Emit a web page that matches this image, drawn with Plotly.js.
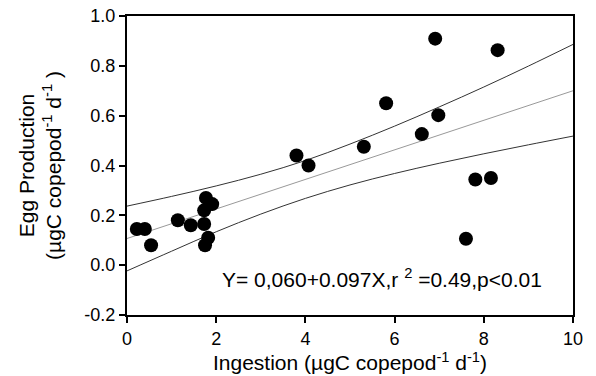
<!DOCTYPE html>
<html>
<head>
<meta charset="utf-8">
<script src="https://cdn.plot.ly/plotly-3.0.1.min.js"></script>
<style>html,body{margin:0;padding:0;background:#fff;}#chart{width:596px;height:376px;}</style>
</head>
<body>
<div id="chart"></div>
<script>
// Observations: ingestion (x) vs egg production (y)
var ingestion = [0.22, 0.40, 0.54, 1.14, 1.43, 1.73, 1.77, 1.91, 1.73, 1.82, 1.75, 3.80, 4.07, 5.31, 5.81, 6.61, 6.98, 6.91, 8.31, 7.81, 8.16, 7.60];
var eggProduction = [0.145, 0.145, 0.08, 0.18, 0.16, 0.165, 0.27, 0.245, 0.22, 0.11, 0.08, 0.44, 0.40, 0.475, 0.65, 0.526, 0.602, 0.909, 0.863, 0.344, 0.35, 0.106];

// Regression line and confidence band
var lineX = [0, 1, 2, 3, 4, 5, 6, 7, 8, 9, 10];
var fitY = [0.107, 0.166, 0.226, 0.285, 0.344, 0.404, 0.463, 0.522, 0.581, 0.641, 0.700];
var upperY = [0.237, 0.276, 0.318, 0.365, 0.420, 0.486, 0.558, 0.635, 0.715, 0.799, 0.886];
var lowerY = [-0.023, 0.056, 0.134, 0.205, 0.268, 0.322, 0.368, 0.409, 0.447, 0.483, 0.518];

var xTicks = [0, 2, 4, 6, 8, 10];
var yTicks = [-0.2, 0.0, 0.2, 0.4, 0.6, 0.8, 1.0];

var font = 'Liberation Sans, Arial, sans-serif';

var traces = [
  {x: lineX, y: upperY, mode: 'lines', line: {color: '#333', width: 1, shape: 'spline'}, hoverinfo: 'skip'},
  {x: lineX, y: lowerY, mode: 'lines', line: {color: '#333', width: 1, shape: 'spline'}, hoverinfo: 'skip'},
  {x: lineX, y: fitY, mode: 'lines', line: {color: '#999', width: 1}, hoverinfo: 'skip'},
  {x: ingestion, y: eggProduction, mode: 'markers', marker: {color: '#000', size: 14}}
];

var axisCommon = {
  showline: true, linecolor: '#000', linewidth: 2, mirror: true,
  ticks: 'outside', ticklen: 6, tickwidth: 2, tickcolor: '#000',
  showgrid: false, zeroline: false,
  tickfont: {family: font, size: 18, color: '#000'}
};

var layout = {
  width: 596, height: 376,
  margin: {l: 127, r: 23, t: 16, b: 61},
  paper_bgcolor: '#fff', plot_bgcolor: '#fff',
  showlegend: false,
  font: {family: font, color: '#000'},
  xaxis: Object.assign({}, axisCommon, {
    range: [0, 10], tickvals: xTicks, ticktext: xTicks.map(String),
    title: {text: 'Ingestion (µgC copepod<sup>-1</sup> d<sup>-1</sup>)', font: {family: font, size: 21}, standoff: 2}
  }),
  yaxis: Object.assign({}, axisCommon, {
    range: [-0.2, 1.0], tickvals: yTicks, ticktext: yTicks.map(function(v){return v.toFixed(1);}),
    title: {text: 'Egg Production<br>(µgC copepod<sup>-1</sup> d<sup>-1</sup> )', font: {family: font, size: 21}, standoff: 17}
  }),
  annotations: [{
    x: 2.08, y: -0.05, xref: 'x', yref: 'y', xanchor: 'left', yanchor: 'middle',
    text: 'Y= 0,060+0.097X,r <sup>2</sup> =0.49,p&lt;0.01', showarrow: false,
    font: {family: font, size: 21, color: '#000'}
  }]
};

Plotly.newPlot('chart', traces, layout, {displayModeBar: false, staticPlot: true});
</script>
</body>
</html>
